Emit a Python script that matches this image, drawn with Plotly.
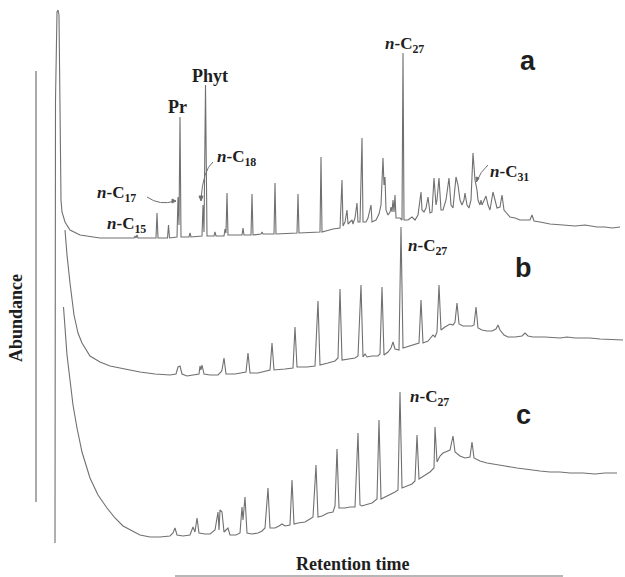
import plotly.graph_objects as go

# ---- Chromatogram traces (retention position, signal level) ----
a_x = [55, 55.5, 57, 58, 59, 60, 61, 62, 65, 70, 80, 100, 125, 134, 135, 136, 137, 138, 150,
       156, 157, 158, 167.5, 168.5, 169.5, 177, 178, 179, 180, 181, 189, 190, 191,
       202, 203, 204, 205.5, 207, 214, 215, 216, 224, 225, 226, 227, 228, 242, 243, 244,
       251, 252, 253, 261, 262, 263, 274, 275, 276, 297, 298, 299, 320, 321, 322, 333,
       340, 342, 343, 345, 347, 348, 350, 352, 353, 355, 357, 358, 360, 362, 363, 366, 368, 371, 372,
       376, 379, 381, 383, 384, 385, 386, 388, 390, 391, 392, 393, 394, 395, 396, 400, 402, 403, 404,
       408, 412, 415, 418, 421, 422, 424, 426, 428, 430, 432, 434, 436, 437, 439, 441, 443, 446, 449,
       451, 453, 456, 458, 460, 462, 464, 465, 467, 469, 471, 473, 474, 475, 477, 478, 480, 481, 482,
       484, 486, 488, 490, 493, 495, 497, 500, 502, 504, 507, 510, 515, 520, 525, 530, 532, 534, 540,
       550, 563, 575, 585, 597, 605, 612, 620]
a_y = [543, 100, 12, 10, 15, 120, 200, 212, 222, 230, 235, 238, 238, 238, 236, 238, 235, 238, 238,
       238, 213, 238, 238, 225, 238, 237, 197, 225, 117, 237, 237, 233, 237,
       236, 205, 232, 85, 236, 236, 232, 236, 236, 229, 233, 193, 235, 235, 228, 235,
       235, 194, 235, 234, 232, 234, 234, 183, 234, 233, 194, 233, 232, 157, 232, 229,
       228, 180, 226, 222, 210, 224, 222, 220, 224, 218, 203, 222, 222, 138, 222, 222, 218, 205, 222,
       220, 214, 205, 158, 185, 177, 210, 215, 212, 207, 212, 200, 212, 195, 218, 218, 220, 53, 220,
       220, 217, 220, 215, 192, 210, 212, 208, 197, 213, 212, 178, 205, 200, 178, 210, 210, 200, 178,
       205, 208, 177, 185, 200, 205, 200, 193, 205, 208, 200, 153, 170, 180, 190, 200, 205, 200, 205,
       200, 196, 205, 210, 192, 200, 208, 207, 195, 210, 214, 217, 218, 220, 220, 220, 215, 221, 222,
       224, 225, 226, 225, 227, 227, 228, 227]

b_x = [65, 67, 70, 74, 78, 82, 90, 100, 110, 125, 140, 155, 170, 176, 178, 180, 182, 187, 195, 199,
       200, 201, 202, 204, 210, 218, 221, 222, 224, 226, 235, 243, 246, 248, 250, 258, 266, 270, 272,
       274, 285, 293, 295, 297, 307, 315, 318, 320, 328, 335, 338, 340, 342, 350, 355, 358, 361, 363,
       365, 367, 372, 378, 380, 382, 384, 388, 391, 393, 395, 399, 401, 403, 410, 416, 419, 421, 423,
       428, 431, 433, 435, 437, 439, 441, 445, 450, 453, 455, 457, 459, 463, 468, 472, 474, 476, 478,
       482, 487, 492, 496, 498, 500, 504, 508, 515, 522, 525, 528, 533, 545, 560, 567, 575, 590, 600, 623]
b_y = [230, 255, 283, 315, 333, 343, 356, 362, 366, 369, 372, 374, 375, 374, 367, 366, 374, 376, 375, 374,
       366, 370, 365, 374, 375, 375, 372, 370, 358, 374, 374, 373, 372, 353, 373, 373, 371, 370, 343,
       370, 369, 368, 327, 367, 367, 366, 301, 365, 363, 361, 358, 289, 360, 359, 358, 356, 285, 357,
       354, 357, 356, 356, 354, 287, 355, 352, 348, 342, 349, 350, 227, 348, 346, 344, 343, 300, 343,
       341, 337, 335, 337, 332, 285, 330, 327, 324, 325, 322, 303, 324, 326, 326, 326, 325, 307, 328,
       330, 331, 331, 329, 325, 330, 335, 337, 337, 336, 333, 336, 337, 337, 338, 337, 338, 338, 339, 340]

c_x = [63.5, 65, 67, 70, 73, 77, 82, 90, 98, 107, 115, 123, 133, 140, 150, 160, 170, 173, 175, 177,
       183, 190, 193, 195, 197, 199, 205, 210, 215, 217, 218, 219, 220, 222, 224, 226, 228, 230, 236,
       240, 242, 243, 245, 247, 252, 258, 262, 265, 268, 270, 275, 279, 282, 285, 290, 292, 294, 298,
       305, 310, 313, 316, 318, 322, 328, 333, 335, 337, 339, 345, 350, 355, 358, 360, 362, 365, 372,
       377, 379, 381, 385, 390, 395, 398, 400, 402, 408, 412, 415, 417, 419, 425, 430, 434, 435, 437,
       440, 443, 446, 450, 453, 455, 460, 465, 470, 472, 474, 480, 487, 495, 505, 517, 530, 540, 550,
       560, 570, 583, 595, 605, 617]
c_y = [307, 330, 355, 380, 405, 428, 452, 478, 495, 508, 518, 526, 531, 535, 537, 537, 536, 533, 528, 535,
       536, 535, 527, 532, 518, 533, 534, 534, 530, 515, 512, 530, 510, 512, 532, 530, 528, 535, 535,
       533, 507, 520, 497, 533, 534, 533, 531, 528, 488, 528, 528, 526, 524, 526, 525, 480, 524, 523,
       522, 519, 517, 465, 517, 516, 513, 512, 506, 449, 508, 508, 507, 507, 433, 505, 506, 505, 503,
       499, 420, 499, 497, 495, 492, 490, 392, 488, 486, 484, 481, 435, 479, 475, 472, 468, 427, 462,
       456, 453, 452, 450, 436, 452, 456, 458, 457, 442, 458, 461, 463, 464, 466, 468, 470, 471, 472,
       472, 473, 473, 474, 473, 473]

LINE = "#707070"
TXT = "#1e1e1e"

fig = go.Figure()
for xs, ys in [(a_x, a_y), (b_x, b_y), (c_x, c_y)]:
    fig.add_trace(go.Scatter(x=xs, y=ys, mode="lines",
                             line=dict(color=LINE, width=1.1), hoverinfo="skip",
                             showlegend=False))

serif = "Liberation Serif"
sans = "Liberation Sans"

def ann(x, y, text, size=17, font=serif, xanchor="left", color=TXT, angle=0):
    fig.add_annotation(x=x, y=y, text=text, showarrow=False, xanchor=xanchor, yanchor="middle",
                       font=dict(family=font, size=size, color=color), textangle=angle)

nC = lambda s: "<b><i>n</i>-C<sub>%s</sub></b>" % s

ann(105, 225, nC("15"))
ann(95, 194, nC("17"))
ann(215, 158, nC("18"))
ann(383, 45, nC("27"))
ann(406, 247, nC("27"))
ann(408, 398, nC("27"))
ann(488, 173, nC("31"))
ann(177, 107, "<b>Pr</b>", size=18, xanchor="center")
ann(210, 76, "<b>Phyt</b>", size=18, xanchor="center")
ann(528, 61, "<b>a</b>", size=27, font=sans, xanchor="center")
ann(523, 268, "<b>b</b>", size=27, font=sans, xanchor="center")
ann(523, 415, "<b>c</b>", size=27, font=sans, xanchor="center")
ann(16, 318, "<b>Abundance</b>", size=18, xanchor="center", angle=-90)
ann(352, 564, "<b>Retention time</b>", size=18, xanchor="center")

shapes = [
    # axis lines
    dict(type="line", x0=36, x1=36, y0=71, y1=502, line=dict(color=LINE, width=1.2)),
    dict(type="line", x0=175, x1=563, y0=576, y1=576, line=dict(color=LINE, width=1.2)),
    # curved pointers
    dict(type="path", path="M 147,197 Q 160,206 175,201", line=dict(color=LINE, width=1)),
    dict(type="path", path="M 172,199 L 176,201 L 172,203 Z", fillcolor=LINE, line=dict(color=LINE, width=1)),
    dict(type="path", path="M 213,162 Q 203,170 201,199", line=dict(color=LINE, width=1)),
    dict(type="path", path="M 199,196 L 201,201 L 203,196 Z", fillcolor=LINE, line=dict(color=LINE, width=1)),
    dict(type="path", path="M 488,165 Q 480,172 477,181", line=dict(color=LINE, width=1)),
    dict(type="path", path="M 476,177 L 476.5,182 L 479,178 Z", fillcolor=LINE, line=dict(color=LINE, width=1)),
]
for s in shapes:
    s.update(xref="x", yref="y")
fig.update_layout(shapes=shapes)

fig.update_layout(
    width=625, height=577, margin=dict(l=0, r=0, t=0, b=0),
    paper_bgcolor="white", plot_bgcolor="white",
    xaxis=dict(range=[0, 625], visible=False, fixedrange=True),
    yaxis=dict(range=[577, 0], visible=False, fixedrange=True),
)
fig.write_html("out.html")
